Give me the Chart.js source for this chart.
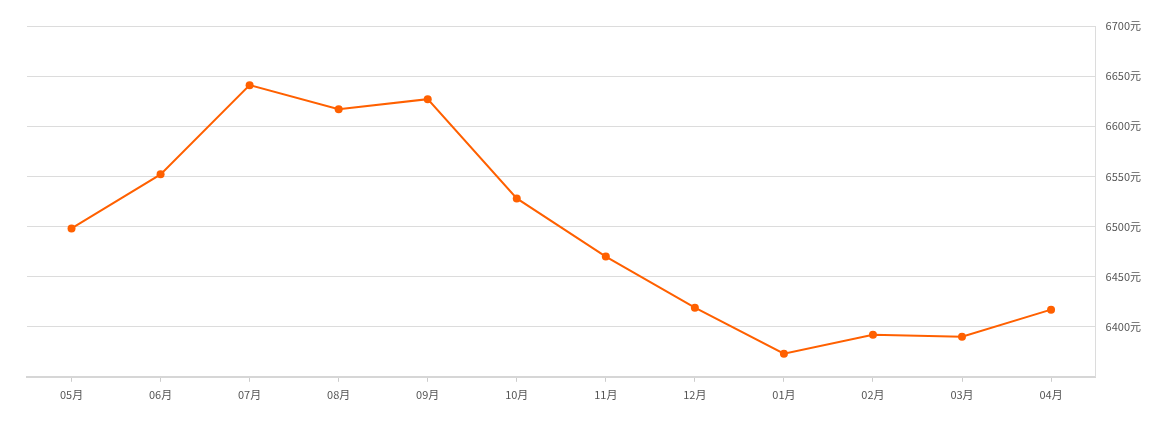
<!DOCTYPE html>
<html lang="zh">
<head>
    <meta charset="UTF-8">
    <title>价格走势</title>
    <script src="https://cdn.jsdelivr.net/npm/chart.js"></script>
    <style>
        body { margin: 0; background: #fff; }
        #wrap { width: 1169px; height: 421px; position: relative; }
    </style>
</head>
<body>
    <div id="wrap"><canvas id="myChart"></canvas></div>
    <script>
        // 月份与价格
        const months = ['05月', '06月', '07月', '08月', '09月', '10月', '11月', '12月', '01月', '02月', '03月', '04月'];
        const prices = [6498, 6552, 6641, 6617, 6627, 6528, 6470, 6419, 6373, 6392, 6390, 6417];
        const yMin = 6350;
        const yMax = 6700;
        const yStep = 50;

        const font = { family: '"Noto Sans CJK SC", "Open Sans", sans-serif', size: 11 };

        new Chart(document.getElementById('myChart'), {
            type: 'line',
            data: {
                labels: months,
                datasets: [{
                    data: prices,
                    borderColor: '#ff6000',
                    backgroundColor: '#ff6000',
                    borderWidth: 2,
                    pointRadius: 4,
                    pointBorderWidth: 0,
                    pointHoverRadius: 5,
                    tension: 0
                }]
            },
            options: {
                responsive: true,
                maintainAspectRatio: false,
                animation: false,
                layout: { padding: { left: 27, top: 26, right: 18, bottom: 14 } },
                plugins: { legend: { display: false }, tooltip: { enabled: false } },
                scales: {
                    x: {
                        offset: true,
                        grid: { drawOnChartArea: false, drawTicks: true, tickLength: 5, color: '#ccc' },
                        border: { color: '#d6d6d6', width: 2 },
                        ticks: { color: '#555', font: font, padding: 6, maxRotation: 0 }
                    },
                    y: {
                        position: 'right',
                        min: yMin,
                        max: yMax,
                        grid: { color: '#dcdcdc', drawTicks: false },
                        border: { display: true, color: '#dcdcdc', width: 1 },
                        ticks: {
                            stepSize: yStep,
                            color: '#555',
                            font: font,
                            padding: 10,
                            callback: function (v) { return v === yMin ? '' : v + '元'; }
                        }
                    }
                }
            }
        });
    </script>
</body>
</html>
